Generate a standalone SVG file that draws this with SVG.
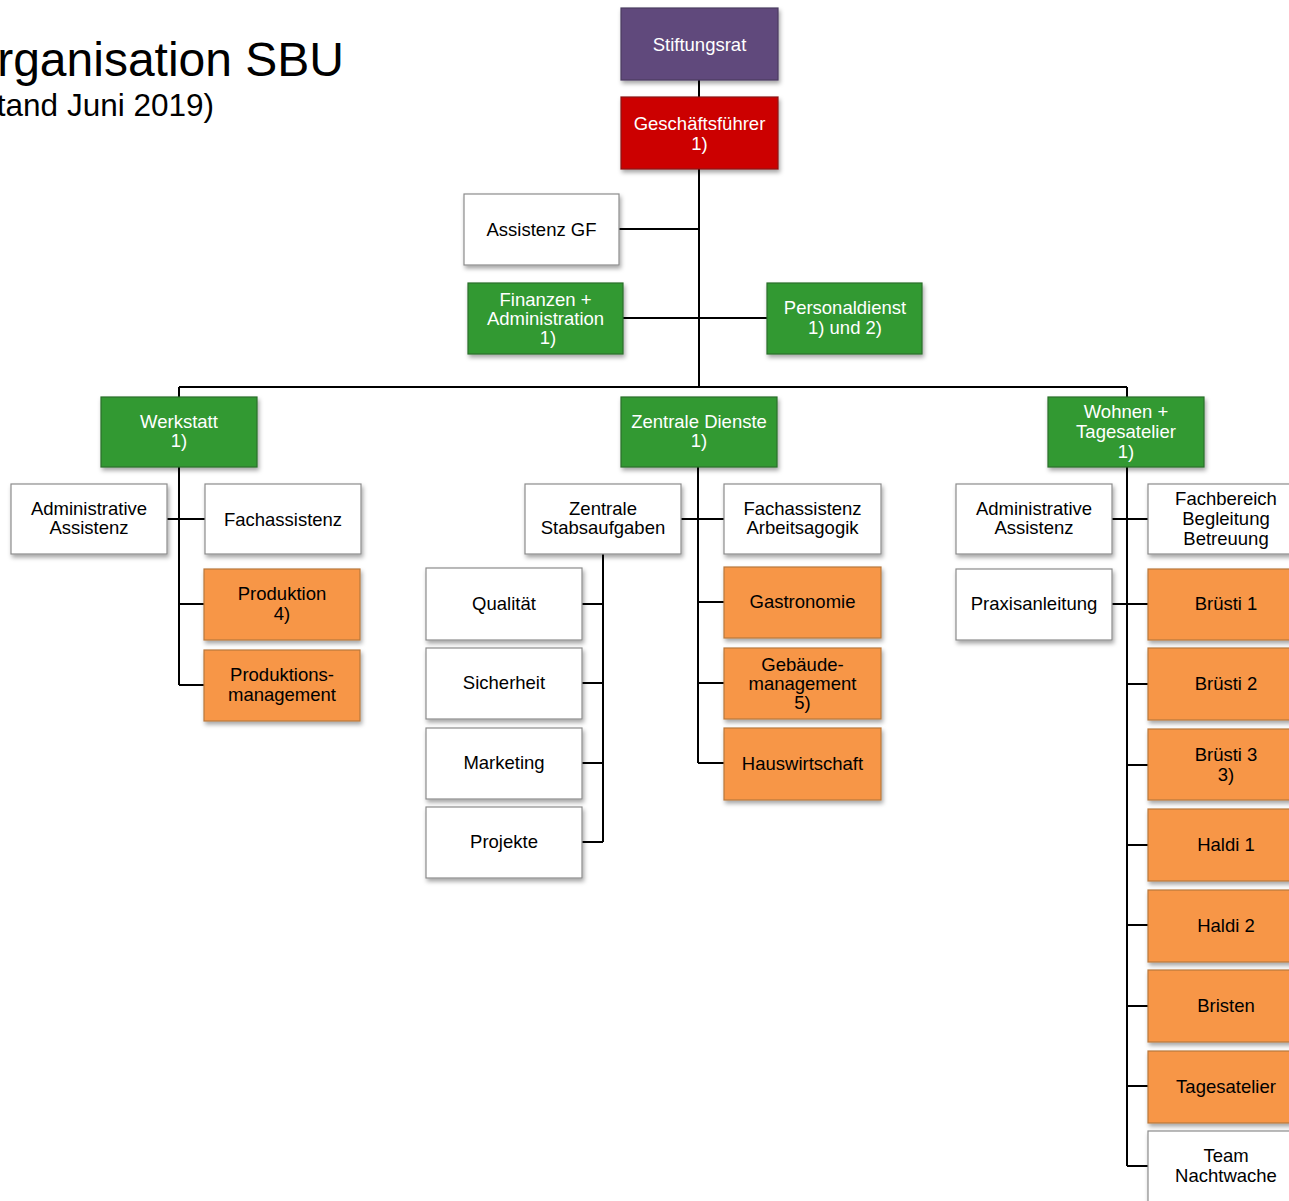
<svg xmlns="http://www.w3.org/2000/svg" width="1289" height="1201" viewBox="0 0 1289 1201">
<defs>
<filter id="sh" x="-10%" y="-10%" width="125%" height="130%">
<feDropShadow dx="1.5" dy="3" stdDeviation="2" flood-color="#000" flood-opacity="0.35"/>
</filter>
<style>
text{font-family:"Liberation Sans",Arial,sans-serif;font-size:18.5px;text-anchor:middle}
.title{font-size:48px;text-anchor:end}
.sub{font-size:31.5px;text-anchor:end}
rect{filter:url(#sh);stroke-width:1.2}
.w rect{fill:#ffffff;stroke:#8c8c8c}
.o rect{fill:#f79646;stroke:#b8783c}
.g rect{fill:#339933;stroke:#2a6e2a}
.r rect{fill:#cc0000;stroke:#8a1010}
.p rect{fill:#604a7b;stroke:#4a3a60}
.w text,.o text{fill:#000}
.g text,.r text,.p text{fill:#fff}
#connectors path{fill:none;stroke:#000;stroke-width:2}
</style>
</defs>
<rect width="1289" height="1201" fill="#fff" style="filter:none;stroke:none"/>
<text class="title" x="344" y="76">Organisation SBU</text>
<text class="sub" x="214" y="116">(Stand Juni 2019)</text>

<g id="connectors">
<path d="M699 80V387M619 229H699M623 318H767M179 387H1127M179 387V397M1127 387V397"/>
<path d="M179 467V685M167 519H205M179 604H204M179 685H204"/>
<path d="M698 467V763M681 519H724M698 602H724M698 683H724M698 763H724"/>
<path d="M603 554V842M582 604H603M582 683H603M582 763H603M582 842H603"/>
<path d="M1127 467V1166M1112 519H1148M1112 604H1148M1127 684H1148M1127 765H1148M1127 845H1148M1127 925H1148M1127 1006H1148M1127 1086H1148M1127 1166H1148"/>
</g>

<g id="stiftungsrat" class="p"><rect x="621" y="8" width="157" height="72"/><text x="699.5" y="50.6">Stiftungsrat</text></g>
<g id="geschaeftsfuehrer" class="r"><rect x="621" y="97" width="157" height="72"/><text x="699.5" y="130">Geschäftsführer</text><text x="699.5" y="149.5">1)</text></g>
<g id="assistenz-gf" class="w"><rect x="464" y="194" width="155" height="71"/><text x="541.5" y="236">Assistenz GF</text></g>
<g id="finanzen" class="g"><rect x="468" y="283" width="155" height="71"/><text x="545.5" y="305.5">Finanzen +</text><text x="545.5" y="324.5">Administration</text><text x="548" y="343.5">1)</text></g>
<g id="personaldienst" class="g"><rect x="767" y="283" width="155" height="71"/><text x="845" y="314">Personaldienst</text><text x="845" y="334">1) und 2)</text></g>

<g id="werkstatt" class="g"><rect x="101" y="397" width="156" height="70"/><text x="179" y="428">Werkstatt</text><text x="179" y="447">1)</text></g>
<g id="zentrale-dienste" class="g"><rect x="621" y="397" width="156" height="70"/><text x="699" y="428">Zentrale Dienste</text><text x="699" y="447">1)</text></g>
<g id="wohnen" class="g"><rect x="1048" y="397" width="156" height="70"/><text x="1126" y="418">Wohnen +</text><text x="1126" y="438">Tagesatelier</text><text x="1126" y="457.5">1)</text></g>

<g id="w-admin" class="w"><rect x="11" y="484" width="156" height="70"/><text x="89" y="515">Administrative</text><text x="89" y="534">Assistenz</text></g>
<g id="w-fach" class="w"><rect x="205" y="484" width="156" height="70"/><text x="283" y="525.5">Fachassistenz</text></g>
<g id="produktion" class="o"><rect x="204" y="569" width="156" height="71"/><text x="282" y="600">Produktion</text><text x="282" y="619.5">4)</text></g>
<g id="produktionsmanagement" class="o"><rect x="204" y="650" width="156" height="71"/><text x="282" y="681">Produktions-</text><text x="282" y="700.5">management</text></g>

<g id="stabsaufgaben" class="w"><rect x="525" y="484" width="156" height="70"/><text x="603" y="515">Zentrale</text><text x="603" y="534">Stabsaufgaben</text></g>
<g id="fach-arbeitsagogik" class="w"><rect x="724" y="484" width="157" height="70"/><text x="802.5" y="515">Fachassistenz</text><text x="802.5" y="534">Arbeitsagogik</text></g>
<g id="qualitaet" class="w"><rect x="426" y="568" width="156" height="72"/><text x="504" y="610">Qualität</text></g>
<g id="sicherheit" class="w"><rect x="426" y="648" width="156" height="71"/><text x="504" y="689">Sicherheit</text></g>
<g id="marketing" class="w"><rect x="426" y="728" width="156" height="71"/><text x="504" y="769">Marketing</text></g>
<g id="projekte" class="w"><rect x="426" y="807" width="156" height="71"/><text x="504" y="848">Projekte</text></g>
<g id="gastronomie" class="o"><rect x="724" y="567" width="157" height="71"/><text x="802.5" y="608">Gastronomie</text></g>
<g id="gebaeudemanagement" class="o"><rect x="724" y="648" width="157" height="71"/><text x="802.5" y="670.5">Gebäude-</text><text x="802.5" y="689.5">management</text><text x="802.5" y="708.5">5)</text></g>
<g id="hauswirtschaft" class="o"><rect x="724" y="728" width="157" height="72"/><text x="802.5" y="770">Hauswirtschaft</text></g>

<g id="wt-admin" class="w"><rect x="956" y="484" width="156" height="70"/><text x="1034" y="515">Administrative</text><text x="1034" y="534">Assistenz</text></g>
<g id="fachbereich" class="w"><rect x="1148" y="484" width="156" height="70"/><text x="1226" y="505">Fachbereich</text><text x="1226" y="525">Begleitung</text><text x="1226" y="544.5">Betreuung</text></g>
<g id="praxisanleitung" class="w"><rect x="956" y="569" width="156" height="71"/><text x="1034" y="610">Praxisanleitung</text></g>
<g id="bruesti1" class="o"><rect x="1148" y="569" width="156" height="71"/><text x="1226" y="610">Brüsti 1</text></g>
<g id="bruesti2" class="o"><rect x="1148" y="648" width="156" height="72"/><text x="1226" y="690">Brüsti 2</text></g>
<g id="bruesti3" class="o"><rect x="1148" y="729" width="156" height="71"/><text x="1226" y="761">Brüsti 3</text><text x="1226" y="780.5">3)</text></g>
<g id="haldi1" class="o"><rect x="1148" y="809" width="156" height="72"/><text x="1226" y="851">Haldi 1</text></g>
<g id="haldi2" class="o"><rect x="1148" y="890" width="156" height="72"/><text x="1226" y="932">Haldi 2</text></g>
<g id="bristen" class="o"><rect x="1148" y="970" width="156" height="72"/><text x="1226" y="1012">Bristen</text></g>
<g id="tagesatelier" class="o"><rect x="1148" y="1051" width="156" height="72"/><text x="1226" y="1093">Tagesatelier</text></g>
<g id="nachtwache" class="w"><rect x="1148" y="1131" width="156" height="72"/><text x="1226" y="1162">Team</text><text x="1226" y="1181.5">Nachtwache</text></g>
</svg>
